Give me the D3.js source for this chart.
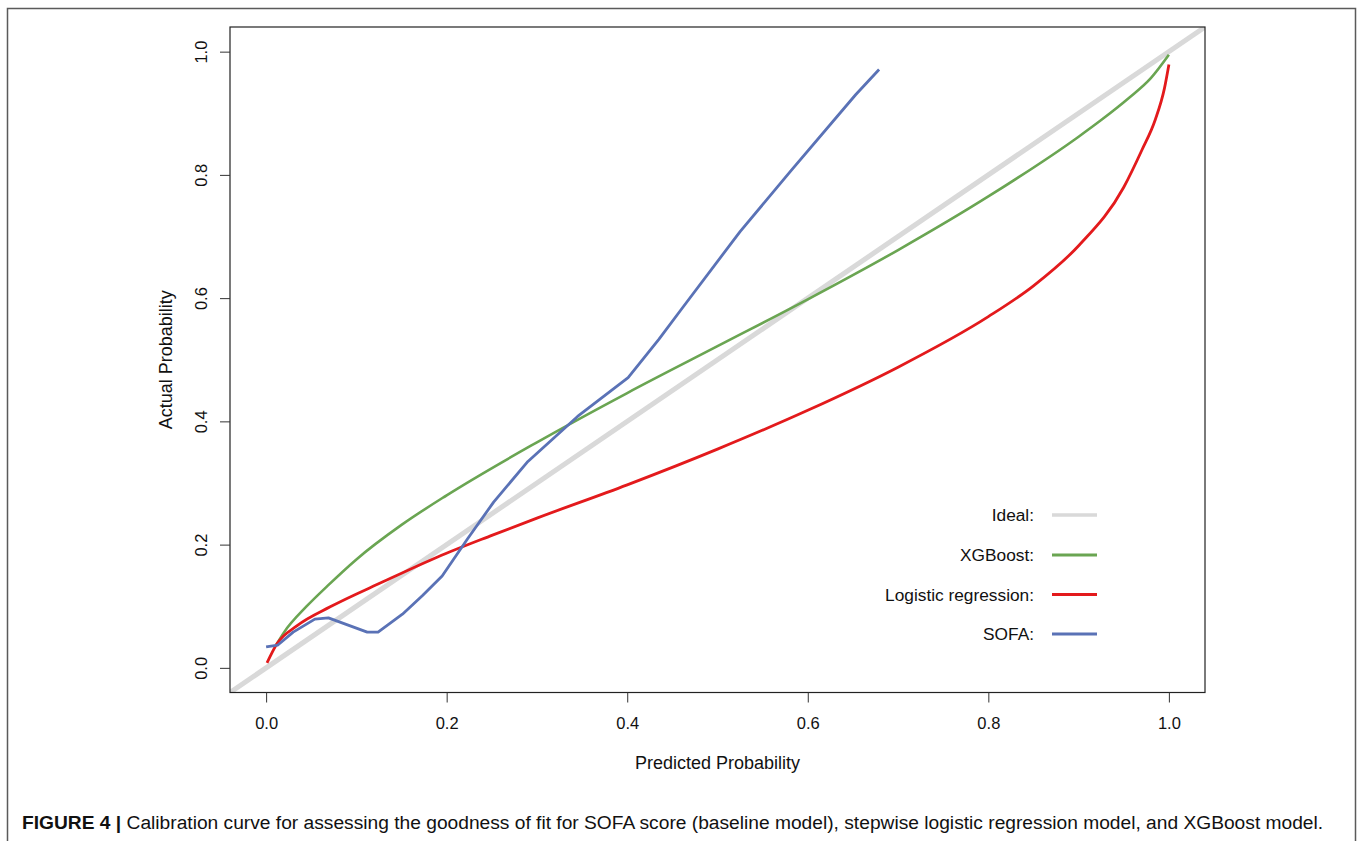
<!DOCTYPE html>
<html><head><meta charset="utf-8">
<script src="https://cdn.jsdelivr.net/npm/d3@7"></script>
<style>body{margin:0;background:#fff;}svg{display:block;font-family:"Liberation Sans",Arial,sans-serif;}</style>
</head><body>
<svg id="chart" width="1358" height="841"></svg>
<script>
// ---- data ----
const xTicks = [0, 0.2, 0.4, 0.6, 0.8, 1.0];
const yTicks = [0, 0.2, 0.4, 0.6, 0.8, 1.0];
const tickLabels = ["0.0", "0.2", "0.4", "0.6", "0.8", "1.0"];
const seriesNames = ["Ideal:", "XGBoost:", "Logistic regression:", "SOFA:"];
const idealLine = [[-0.04, -0.04], [1.04, 1.04]];
const xgboost = [[0.011,0.037],[0.02,0.058],[0.045,0.10],[0.068,0.133],[0.1,0.176],[0.15,0.232],[0.2,0.28],[0.3,0.366],[0.4,0.446],[0.5,0.522],[0.6,0.598],[0.7,0.678],[0.8,0.765],[0.9,0.862],[0.925,0.889],[0.955,0.924],[0.98,0.957],[1.0,0.995]];
const logistic = [[0.001,0.008],[0.012,0.039],[0.034,0.068],[0.071,0.099],[0.13,0.140],[0.19,0.18],[0.25,0.215],[0.3,0.243],[0.4,0.297],[0.5,0.355],[0.6,0.418],[0.7,0.488],[0.8,0.57],[0.85,0.62],[0.9,0.685],[0.95,0.78],[0.97,0.84],[0.985,0.89],[0.995,0.94],[1.0,0.979]];
const sofa = [[0,0.034],[0.013,0.037],[0.03,0.058],[0.054,0.079],[0.069,0.081],[0.112,0.058],[0.124,0.058],[0.151,0.087],[0.173,0.117],[0.195,0.149],[0.223,0.209],[0.252,0.269],[0.29,0.335],[0.345,0.408],[0.401,0.471],[0.435,0.533],[0.46,0.582],[0.525,0.708],[0.581,0.806],[0.653,0.93],[0.679,0.971]];
const colors = ["#d9d9d9", "#6aa552", "#e31a1c", "#5a72b6"];
const captionBold = "FIGURE 4 | ";
const captionText = "Calibration curve for assessing the goodness of fit for SOFA score (baseline model), stepwise logistic regression model, and XGBoost model.";

// ---- layout ----
const svg = d3.select("#chart");
const L = 230, R = 1205, T = 27, B = 692.5;
const x = d3.scaleLinear().domain([-0.04, 1.04]).range([L, R]);
const y = d3.scaleLinear().domain([-0.04, 1.04]).range([B, T]);

// outer figure frame
svg.append("path").attr("d", `M7.5,850 V8.5 H1355.5 V850`).attr("fill","none").attr("stroke","#5a5a5a").attr("stroke-width",1.5);

svg.append("defs").append("clipPath").attr("id","clip").append("rect")
  .attr("x", L).attr("y", T).attr("width", R-L).attr("height", B-T);

const g = svg.append("g").attr("clip-path","url(#clip)");
const line = d3.line().x(d=>x(d[0])).y(d=>y(d[1]));
const smooth = d3.line().x(d=>x(d[0])).y(d=>y(d[1])).curve(d3.curveMonotoneX);

g.append("path").datum(idealLine).attr("d", line).attr("fill","none").attr("stroke",colors[0]).attr("stroke-width",5);
g.append("path").datum(xgboost).attr("d", smooth).attr("fill","none").attr("stroke",colors[1]).attr("stroke-width",2.6);
g.append("path").datum(logistic).attr("d", smooth).attr("fill","none").attr("stroke",colors[2]).attr("stroke-width",2.8);
g.append("path").datum(sofa).attr("d", line).attr("fill","none").attr("stroke",colors[3]).attr("stroke-width",2.8).attr("stroke-linejoin","round");

// box
svg.append("rect").attr("x",L).attr("y",T).attr("width",R-L).attr("height",B-T).attr("fill","none").attr("stroke","#222").attr("stroke-width",1.2);

// axes
const xAxis = d3.axisBottom(x).tickValues(xTicks).tickSize(10).tickFormat((d,i)=>tickLabels[i]);
const xg = svg.append("g").attr("transform",`translate(0,${B})`).call(xAxis);
xg.select(".domain").remove();
xg.selectAll(".tick line").attr("stroke","#333");
xg.selectAll(".tick text").attr("font-size",16.5).attr("fill","#111").attr("y",25).attr("dy","0.71em").attr("font-family","Liberation Sans, Arial, sans-serif");

const yAxis = d3.axisLeft(y).tickValues(yTicks).tickSize(10).tickFormat((d,i)=>tickLabels[i]);
const yg = svg.append("g").attr("transform",`translate(${L},0)`).call(yAxis);
yg.select(".domain").remove();
yg.selectAll(".tick line").attr("stroke","#333");
yg.selectAll(".tick text").attr("font-size",16.5).attr("fill","#111")
  .attr("x",null).attr("dy",null).attr("text-anchor","middle")
  .attr("transform","translate(-23,0) rotate(-90)").attr("y",0).attr("font-family","Liberation Sans, Arial, sans-serif");

// axis titles
svg.append("text").attr("x",(L+R)/2).attr("y",768.5).attr("text-anchor","middle").attr("font-size",18).attr("fill","#111").text("Predicted Probability");
svg.append("text").attr("transform",`translate(172,${(T+B)/2}) rotate(-90)`).attr("text-anchor","middle").attr("font-size",18).attr("fill","#111").text("Actual Probability");

// legend
const ly = [515, 555, 594.5, 634];
seriesNames.forEach((n,i)=>{
  svg.append("text").attr("x",1034).attr("y",ly[i]).attr("dy","0.35em").attr("text-anchor","end").attr("font-size",17.3).attr("fill","#111").text(n);
  svg.append("line").attr("x1",1052).attr("x2",1097).attr("y1",ly[i]).attr("y2",ly[i]).attr("stroke",colors[i]).attr("stroke-width",i===0?3.5:3);
});

// caption
const cap = svg.append("text").attr("x",22).attr("y",829).attr("font-size",19.2).attr("fill","#111");
cap.append("tspan").attr("font-weight","bold").text(captionBold);
cap.append("tspan").text(captionText);
</script>
</body></html>
